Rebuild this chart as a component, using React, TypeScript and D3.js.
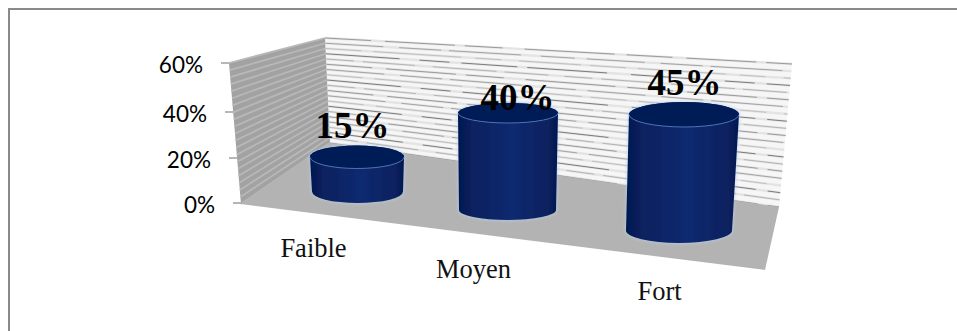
import React from "react";
import * as d3 from "d3";

// Survey shares per level
const categories = ["Faible", "Moyen", "Fort"];
const values = [15, 40, 45];
const axisTicks = [0, 20, 40, 60];
const gridStep = 3;
const axisMax = 60;

const W = 957;
const H = 331;

// Corners of the perspective box
const wallTL: [number, number] = [325, 38];
const wallTR: [number, number] = [792, 64];
const wallBR: [number, number] = [779, 207];
const wallBL: [number, number] = [330, 143];
const sideTL: [number, number] = [229, 63];
const sideBL: [number, number] = [241, 204];
const floorFR: [number, number] = [765, 270];

const poly = (pts: [number, number][]) => pts.map((p) => p.join(",")).join(" ");

// Outer axis edge: slight foreshortening between the tick levels
const axisY = d3.scaleLinear().domain(axisTicks).range([203, 158, 112, 63]);
const axisX = d3.scaleLinear().domain([0, axisMax]).range([233, 221]);
const axisLabelRight = d3.scaleLinear().domain([0, axisMax]).range([215, 203]);

// Wall edges as functions of the value
const leftX = d3.scaleLinear().domain([0, axisMax]).range([wallBL[0], wallTL[0]]);
const leftY = d3.scaleLinear().domain([0, axisMax]).range([wallBL[1], wallTL[1]]);
const rightX = d3.scaleLinear().domain([0, axisMax]).range([wallBR[0], wallTR[0]]);
const rightY = d3.scaleLinear().domain([0, axisMax]).range([wallBR[1], wallTR[1]]);
const sideX = d3.scaleLinear().domain([0, axisMax]).range([sideBL[0], sideTL[0]]);
const sideY = d3.scaleLinear().domain([0, axisMax]).range([sideBL[1], sideTL[1]]);

// Placement along the floor, by category index
const slots = categories.map((_, i) => i);
const topCx = d3.scaleLinear().domain(slots).range([357, 508, 684]);
const topRx = d3.scaleLinear().domain(slots).range([47, 50, 55]);
const baseCx = d3.scaleLinear().domain(slots).range([357.5, 507.5, 679]);
const baseRx = d3.scaleLinear().domain(slots).range([45.5, 48.5, 53]);
const capRy = d3.scaleLinear().domain(slots).range([11.5, 10, 12.5]);
const baseY = d3.scaleLinear().domain(slots).range([191.5, 210, 230.5]);
const unitPx = d3.scaleLinear().domain(slots).range([2.3, 2.425, 2.578]);

// Labels sit at fixed spots beside the perspective
const valueLabelX = d3.scaleLinear().domain(slots).range([352.5, 517.5, 684.5]);
const valueLabelY = d3.scaleLinear().domain(slots).range([138, 110, 95]);
const catLabelX = d3.scaleLinear().domain(slots).range([313.5, 473.5, 659.5]);
const catLabelY = d3.scaleLinear().domain(slots).range([257, 278, 300]);

// Rendering of the wall grid: each line breaks up into irregular dashes
const dashSets = [
  "46 14 70 10 38 22 90 12",
  "28 9 52 18 64 8 44 16",
  "74 20 30 12 56 10 80 24",
  "36 12 88 14 26 18 62 9",
  "58 16 42 8 72 20 34 12",
];
const dashInks = ["#9a9a9a", "#b4b4b4", "#7c7c7c", "#c0c0c0", "#a4a4a4"];

function Cylinder({ i }: { i: number }) {
  const h = d3.scaleLinear().domain([0, axisMax]).range([baseY(i), baseY(i) - axisMax * unitPx(i)]);
  const yTop = h(values[i]);
  const yBase = h(0);
  const ry = capRy(i);
  const tx = topCx(i);
  const trx = topRx(i);
  const bx = baseCx(i);
  const brx = baseRx(i);
  const body = `M${tx - trx},${yTop} L${bx - brx},${yBase} A${brx},${ry} 0 0 0 ${bx + brx},${yBase} L${tx + trx},${yTop} A${trx},${ry} 0 0 0 ${tx - trx},${yTop} Z`;
  const rim = `M${tx - trx},${yTop} A${trx},${ry} 0 0 0 ${tx + trx},${yTop}`;
  return (
    <g>
      <g filter="url(#halo)" opacity={0.55}>
        <path d={body} fill="#b9cfec" stroke="#b9cfec" strokeWidth={2.5} />
        <ellipse cx={tx} cy={yTop} rx={trx} ry={ry} fill="#b9cfec" stroke="#b9cfec" strokeWidth={2.5} />
      </g>
      <g filter="url(#edge)">
        <path d={body} fill="url(#side)" />
        <ellipse cx={tx} cy={yTop} rx={trx} ry={ry} fill="#041a56" />
        <path d={rim} fill="none" stroke="#4f74b6" strokeWidth={1} />
      </g>
    </g>
  );
}

export default function App() {
  const gridValues = d3.range(0, axisMax + gridStep, gridStep);
  return (
    <svg
      width={W}
      height={H}
      viewBox={`0 0 ${W} ${H}`}
      style={{ position: "absolute", left: 0, top: 0, background: "#fff" }}
    >
      <defs>
        <linearGradient id="side" x1="0" x2="1" y1="0" y2="0">
          <stop offset="0" stopColor="#051850" />
          <stop offset="0.15" stopColor="#08215f" />
          <stop offset="0.55" stopColor="#0c2a70" />
          <stop offset="0.9" stopColor="#08215f" />
          <stop offset="1" stopColor="#051850" />
        </linearGradient>
        <filter id="halo" x="-10%" y="-10%" width="120%" height="120%">
          <feGaussianBlur stdDeviation="1.5" />
        </filter>
        <filter id="edge" x="-5%" y="-5%" width="110%" height="110%">
          <feGaussianBlur stdDeviation="0.6" />
        </filter>
        <filter id="soft" x="-5%" y="-5%" width="110%" height="110%">
          <feGaussianBlur stdDeviation="0.6" />
        </filter>
      </defs>

      {/* Frame: only the top and left edges fall inside the view */}
      <path d={`M${W},9 H9 V${H}`} fill="none" stroke="#8a8a8a" strokeWidth={2} />

      {/* Box walls and floor */}
      <polygon points={poly([wallTL, wallTR, wallBR, wallBL])} fill="#f6f6f6" />
      <polygon points={poly([sideTL, wallTL, wallBL, sideBL])} fill="#a2a2a2" />

      <g filter="url(#soft)">
        {gridValues.map((v) => (
          <line
            key={`b${v}`}
            x1={leftX(v)}
            y1={leftY(v)}
            x2={rightX(v)}
            y2={rightY(v)}
            stroke="#e4e4e4"
            strokeWidth={2.4}
          />
        ))}
        {gridValues.map((v, k) => (
          <line
            key={`w${v}`}
            x1={leftX(v)}
            y1={leftY(v)}
            x2={rightX(v)}
            y2={rightY(v)}
            stroke={dashInks[k % dashInks.length]}
            strokeWidth={1}
            strokeDasharray={dashSets[k % dashSets.length]}
          />
        ))}
        {gridValues.map((v) => (
          <line
            key={`s${v}`}
            x1={sideX(v)}
            y1={sideY(v)}
            x2={leftX(v)}
            y2={leftY(v)}
            stroke="#b8b8b8"
            strokeWidth={1.8}
          />
        ))}
      </g>
      <polygon points={poly([sideBL, wallBL, wallBR, floorFR])} fill="#b3b3b3" />

      {/* Value axis */}
      {axisTicks.map((t) => (
        <g key={t}>
          <line
            x1={axisX(t)}
            x2={axisX(t) + 8}
            y1={axisY(t)}
            y2={axisY(t)}
            stroke="#868686"
            strokeWidth={1.2}
          />
          <text
            x={axisLabelRight(t)}
            y={axisY(t) + 9.5}
            textAnchor="end"
            fontFamily="Lato"
            fontSize={22.5}
            fill="#000"
          >
            {`${t}%`}
          </text>
        </g>
      ))}

      {categories.map((_, i) => (
        <Cylinder key={i} i={i} />
      ))}

      {/* Value labels */}
      {categories.map((_, i) => (
        <text
          key={`v${i}`}
          x={valueLabelX(i)}
          y={valueLabelY(i)}
          textAnchor="middle"
          fontFamily="Liberation Serif"
          fontWeight="bold"
          fontSize={37}
          fill="#000"
        >
          {`${values[i]}%`}
        </text>
      ))}

      {/* Category labels */}
      {categories.map((c, i) => (
        <text
          key={c}
          x={catLabelX(i)}
          y={catLabelY(i)}
          textAnchor="middle"
          fontFamily="Liberation Serif"
          fontSize={26.5}
          fill="#111"
        >
          {c}
        </text>
      ))}
    </svg>
  );
}
